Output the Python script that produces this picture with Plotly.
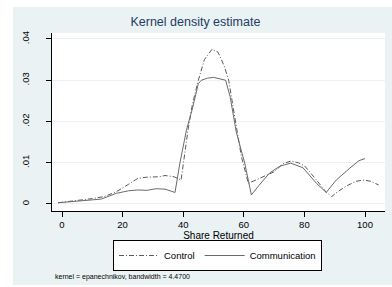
import plotly.graph_objects as go

# Data
control_x = [-1.3, 5, 10, 14, 18, 22, 25, 28, 32, 34, 37, 39.3, 40, 41.6, 43, 45, 47, 49.5,
             51.5, 53.5, 55, 57.5, 59.2, 61.5, 64, 66, 70, 73, 75.5, 78, 80, 84, 87, 89,
             91, 94, 97, 99.5, 102, 104.5]
control_y = [0.0003, 0.0008, 0.0013, 0.0018, 0.003, 0.0048, 0.0062, 0.0065, 0.0066, 0.0069,
             0.0066, 0.0058, 0.0099, 0.018, 0.024, 0.030, 0.035, 0.0375, 0.0368, 0.0335,
             0.030, 0.019, 0.0115, 0.005, 0.0058, 0.0066, 0.0078, 0.0098, 0.0104, 0.0100,
             0.0093, 0.0058, 0.003, 0.0018, 0.003, 0.0044, 0.0055, 0.0058, 0.0055, 0.0046]

comm_x = [-1.3, 5, 10, 13, 18, 22, 25, 28, 31, 34, 37.3, 38.9, 41.1, 43, 45, 46, 48, 50,
          52, 54, 55.5, 57.5, 60.3, 62.5, 65, 68.5, 72, 75.5, 79.5, 84, 87.2, 90.5, 95, 98, 100]
comm_y = [0.0003, 0.0006, 0.001, 0.0012, 0.0026, 0.0032, 0.0034, 0.0033, 0.0037, 0.0036,
          0.0028, 0.0099, 0.018, 0.023, 0.0292, 0.030, 0.0305, 0.0307, 0.0303, 0.030,
          0.026, 0.0175, 0.0099, 0.0022, 0.0045, 0.0075, 0.0092, 0.0099, 0.0088, 0.005,
          0.0028, 0.0058, 0.0087, 0.0105, 0.011]

x_ticks = [0, 20, 40, 60, 80, 100]
y_ticks = [0, 0.01, 0.02, 0.03, 0.04]
y_tick_labels = ["0", ".01", ".02", ".03", ".04"]

W, H = 392, 287
ML, MR, MT, MB = 52, 7, 33, 76
PW, PH = W - ML - MR, H - MT - MB

def px(x):
    return (x - ML) / PW

def py(y):
    return (H - MB - y) / PH

FONT = "Liberation Sans, Arial, sans-serif"
BG = "#eaf2f3"

fig = go.Figure()
fig.add_trace(go.Scatter(x=control_x, y=control_y, mode="lines", name="Control",
                         line=dict(color="#5a5a5a", width=1, dash="5px,2px,1px,2px")))
fig.add_trace(go.Scatter(x=comm_x, y=comm_y, mode="lines", name="Communication",
                         line=dict(color="#6a6a6a", width=1)))

white_strip = dict(type="rect", xref="paper", yref="paper", fillcolor="white",
                   line=dict(width=0), layer="above")

fig.update_layout(
    width=W, height=H,
    margin=dict(l=ML, r=MR, t=MT, b=MB, pad=0),
    paper_bgcolor=BG, plot_bgcolor="white",
    font=dict(family=FONT, size=10, color="black"),
    title=dict(text="Kernel density estimate", x=px(218), xanchor="center",
               y=1 - 22 / H, yanchor="middle",
               font=dict(family=FONT, size=12.5, color="#1e3c64")),
    showlegend=True,
    legend=dict(orientation="h", x=px(217.5), xanchor="center", y=py(240), yanchor="top",
                bordercolor="black", borderwidth=1, bgcolor="white",
                font=dict(family=FONT, size=9.5), itemwidth=40,
                tracegroupgap=0),
    shapes=[
        dict(white_strip, x0=px(0), x1=px(13), y0=py(H), y1=py(0)),
        dict(white_strip, x0=px(13), x1=px(W), y0=py(7), y1=py(0)),
        dict(white_strip, x0=px(13), x1=px(W), y0=py(H), y1=py(285)),
    ],
    annotations=[
        dict(text="kernel = epanechnikov, bandwidth = 4.4700", xref="paper", yref="paper",
             x=px(53), y=py(277), xanchor="left", yanchor="middle", showarrow=False,
             font=dict(family=FONT, size=7, color="black")),
    ],
)

fig.update_xaxes(range=[-3.3, 106.6], tickvals=x_ticks, ticks="outside", ticklen=5,
                 tickcolor="black", showline=True, linecolor="black", linewidth=1,
                 showgrid=False, zeroline=False, tickfont=dict(size=9.5),
                 title=dict(text="Share Returned", standoff=0, font=dict(size=10)))
fig.update_yaxes(range=[-0.0017, 0.04145], tickvals=y_ticks, ticktext=y_tick_labels,
                 ticks="outside", ticklen=5, tickcolor="black", showline=True,
                 linecolor="black", linewidth=1, showgrid=True, gridcolor=BG, gridwidth=1,
                 zeroline=False, tickangle=-90, tickfont=dict(size=9.5),
                 ticklabelstandoff=13)

fig.write_html("out.html", config={"displayModeBar": False},
               post_script="document.body.style.margin='0';document.body.style.overflow='hidden';")
